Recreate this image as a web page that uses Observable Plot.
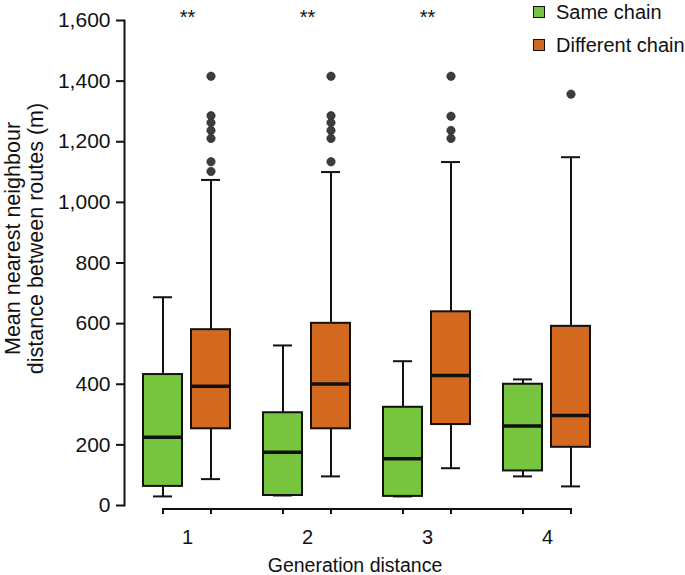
<!DOCTYPE html>
<html><head><meta charset="utf-8">
<script src="https://cdn.jsdelivr.net/npm/d3@7"></script>
<script src="https://cdn.jsdelivr.net/npm/@observablehq/plot@0.6"></script>
<style>
body{margin:0;background:#fff;font-family:"Liberation Sans",Arial,Helvetica,sans-serif;}
#wrap{position:relative;width:685px;height:575px;}
#legend{position:absolute;left:533px;top:0;font-size:20px;color:#111;}
.item{position:absolute;left:0;white-space:nowrap;display:flex;align-items:center;height:22px;line-height:22px;}
.sw{width:10px;height:10px;border:1.5px solid #111;margin-right:11px;flex:none;}
#baseline{position:absolute;height:2px;background:#111;}
</style></head><body>
<div id="wrap"><div id="legend"></div><div id="baseline"></div></div>
<script>
const generations = [1, 2, 3, 4];
const chains = ["Same chain", "Different chain"];
const colors = ["#77c43f", "#d2691e"];
const yTicks = [0, 200, 400, 600, 800, 1000, 1200, 1400, 1600];
const significance = ["**", "**", "**", ""];

// Same chain, per generation distance
const sameLow    = [30, 33, 30, 96];
const sameQ1     = [63, 33, 30, 114];
const sameMedian = [225, 176, 154, 262];
const sameQ3     = [432, 306, 324, 400];
const sameHigh   = [687, 528, 476, 416];
// Different chain, per generation distance
const diffLow    = [87, 96, 123, 63];
const diffQ1     = [253, 253, 267, 192];
const diffMedian = [393, 401, 429, 297];
const diffQ3     = [580, 601, 639, 591];
const diffHigh   = [1074, 1100, 1133, 1149];
const diffOutliers = [
  [1416, 1286, 1263, 1237, 1211, 1134, 1102],
  [1416, 1286, 1263, 1237, 1211, 1134],
  [1416, 1284, 1237, 1211],
  [1357]
];

const boxes = generations.flatMap((g, i) => [
  {gen: g, chain: chains[0], low: sameLow[i], q1: sameQ1[i], median: sameMedian[i], q3: sameQ3[i], high: sameHigh[i]},
  {gen: g, chain: chains[1], low: diffLow[i], q1: diffQ1[i], median: diffMedian[i], q3: diffQ3[i], high: diffHigh[i]}
]);
const outlierRows = diffOutliers.flatMap((arr, i) => arr.map(v => ({gen: generations[i], chain: chains[1], value: v})));
const sigRows = generations.map((g, i) => ({gen: g, text: significance[i]}));

const ink = "#111";
const chart = Plot.plot({
  width: 685, height: 575,
  marginTop: 20, marginBottom: 70, marginLeft: 124, marginRight: 74,
  style: {fontFamily: "'Liberation Sans', Arial, sans-serif", fontSize: "20px", color: ink, background: "transparent"},
  fx: {domain: generations, paddingInner: 0.115, paddingOuter: 0.08, label: null},
  x: {type: "band", domain: chains, padding: 0.18, label: null},
  y: {domain: [0, 1600], label: null},
  color: {domain: chains, range: colors},
  marks: [
    Plot.frame({anchor: "left", facetAnchor: "left", dx: -10, stroke: ink, strokeWidth: 2}),
    Plot.axisY(yTicks, {tickSize: 8, tickPadding: 6, dx: -10, stroke: ink, strokeWidth: 2, tickFormat: d3.format(","), fontSize: 21, label: null}),
    Plot.axisX({tickSize: 6, dy: 3, stroke: ink, strokeWidth: 2, tickFormat: () => "", label: null}),
    Plot.axisFx({anchor: "bottom", tickSize: 0, tickPadding: 24, label: null, fontSize: 20}),
    Plot.ruleX(boxes, {fx: "gen", x: "chain", y1: "low", y2: "q1", stroke: ink, strokeWidth: 2}),
    Plot.ruleX(boxes, {fx: "gen", x: "chain", y1: "q3", y2: "high", stroke: ink, strokeWidth: 2}),
    Plot.tickY(boxes, {fx: "gen", x: "chain", y: "low", insetLeft: 10, insetRight: 10, stroke: ink, strokeWidth: 2}),
    Plot.tickY(boxes, {fx: "gen", x: "chain", y: "high", insetLeft: 10, insetRight: 10, stroke: ink, strokeWidth: 2}),
    Plot.barY(boxes, {fx: "gen", x: "chain", y1: "q1", y2: "q3", fill: "chain", stroke: ink, strokeWidth: 2}),
    Plot.tickY(boxes, {fx: "gen", x: "chain", y: "median", stroke: ink, strokeWidth: 3.5}),
    Plot.dot(outlierRows, {fx: "gen", x: "chain", y: "value", r: 4.2, fill: "#3d3d3d", stroke: "#2a2a2a", strokeWidth: 0.6}),
    Plot.text(sigRows, {fx: "gen", text: "text", frameAnchor: "top", dy: -11, fontSize: 20}),
    Plot.text(["Generation distance"], {facet: "super", frameAnchor: "bottom", dy: 66, dx: -12.5, fontSize: 19.5}),
    Plot.text(["Mean nearest neighbour\ndistance between routes (m)"], {facet: "super", frameAnchor: "left", textAnchor: "middle", lineAnchor: "middle", rotate: -90, dx: -110.5, dy: -24.5, lineHeight: 1.08, fontSize: 21.5})
  ]
});
document.getElementById("wrap").prepend(chart);

// Bottom axis baseline: joins the first and last x-axis ticks drawn by Plot, at the tick tops
(function placeBaseline() {
  const svgRect = chart.getBoundingClientRect();
  let xs = [];
  chart.querySelectorAll('[aria-label="x-axis tick"] *').forEach(el => {
    if (el.tagName !== "path" && el.tagName !== "line") return;
    const r = el.getBoundingClientRect();
    xs.push(r.left - svgRect.left + r.width / 2);
  });
  if (xs.length < 2) xs = [162, 572];
  const y0 = chart.scale("y").apply(0) + 3.5;
  const b = document.getElementById("baseline");
  b.style.left = (d3.min(xs) - 1) + "px";
  b.style.width = (d3.max(xs) - d3.min(xs) + 2) + "px";
  b.style.top = (y0 - 1) + "px";
})();

const legend = document.getElementById("legend");
chains.forEach((c, i) => {
  const item = document.createElement("div");
  item.className = "item";
  item.style.top = (1 + i * 33) + "px";
  const sw = document.createElement("span");
  sw.className = "sw";
  sw.style.background = colors[i];
  const label = document.createElement("span");
  label.textContent = c;
  item.append(sw, label);
  legend.append(item);
});
</script></body></html>
